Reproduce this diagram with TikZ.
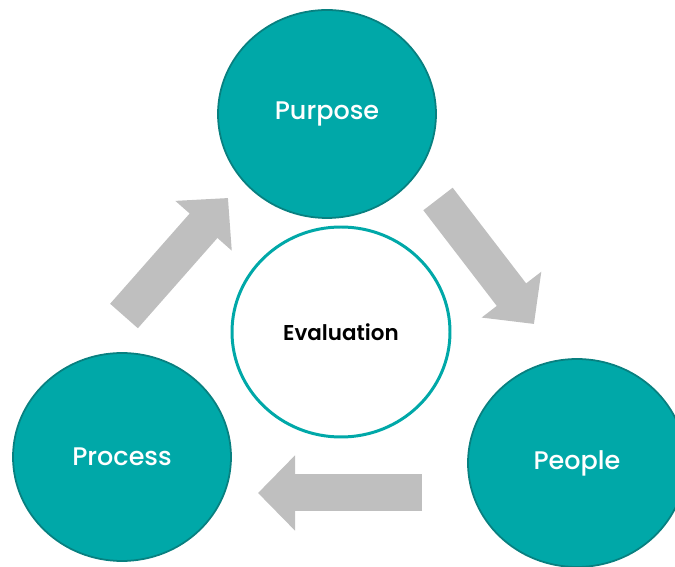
\documentclass[tikz,border=0pt]{standalone}
\usepackage{fontspec}
\setmainfont{Poppins}
\IfFontExistsTF{Poppins Medium}
	{\newfontfamily\labelfont{Poppins Medium}}
	{\newfontfamily\labelfont{Poppins}[FakeBold=1.5]}
\IfFontExistsTF{Poppins SemiBold}
	{\newfontfamily\centrefont{Poppins SemiBold}}
	{\newfontfamily\centrefont{Poppins Bold}}
\usepackage{tikz}
\usetikzlibrary{shapes.geometric, arrows.meta, positioning}

\definecolor{tealfill}{RGB}{0,168,168}
\definecolor{tealedge}{RGB}{8,128,128}
\definecolor{arrowgray}{RGB}{191,191,191}

\begin{document}
\begin{tikzpicture}[
	stage/.style={draw=tealedge, fill=tealfill, ellipse, line width=1pt, minimum width=4.36cm, minimum height=4.16cm, inner sep=0pt, text=white, font=\labelfont\fontsize{14.5}{16}\selectfont},
	centre/.style={draw=tealfill, fill=white, ellipse, line width=1.7pt, minimum width=4.36cm, minimum height=4.2cm, inner sep=0pt, font=\centrefont\fontsize{12.2}{14}\selectfont},
	block/.style={line width=0.74cm, arrowgray, -{Triangle[length=0.74cm, width=1.46cm]}}
	]
	
	\useasboundingbox (0,0) rectangle (13.5,11.34);
	\clip (0,0) rectangle (13.5,11.34);
	
	% Three stages
	\node[stage] (purpose) at (6.54, 9.06) {Purpose};
	\node[stage] (process) at (2.44, 2.20) {Process};
	\node[stage] (people) at (11.54, 2.08) {People};
	
	% Centre
	\node[centre] (eval) at (6.82, 4.70) {Evaluation};
	
	% Arrows
	\coordinate (a1s) at (2.48, 5.02);
	\coordinate (a1e) at (4.56, 7.38);
	\coordinate (a2s) at (8.76, 7.36);
	\coordinate (a2e) at (10.68, 4.86);
	\coordinate (a3s) at (8.44, 1.48);
	\coordinate (a3e) at (5.16, 1.48);
	\draw[block] (a1s) -- (a1e);
	\draw[block] (a2s) -- (a2e);
	\draw[block] (a3s) -- (a3e);
	
\end{tikzpicture}
\end{document}
